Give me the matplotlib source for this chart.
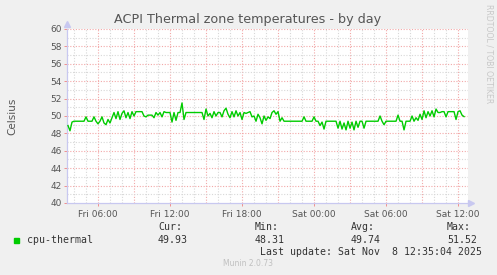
import numpy as np
import matplotlib.pyplot as plt

# cpu-thermal, one sample every 10 minutes from Fri 03:30 to Sat 12:30
temps = [
    48.9, 48.3, 49.3, 49.4, 49.4, 49.4, 49.4, 49.4, 49.4, 49.9,
    49.4, 49.4, 49.4, 49.9, 49.4, 49.1, 49.4, 49.9, 49.2, 49.0,
    49.6, 49.2, 49.8, 50.4, 49.7, 50.5, 49.6, 50.3, 50.6, 49.8,
    50.4, 49.7, 50.5, 50.0, 50.5, 50.5, 50.5, 50.5, 50.0, 49.9,
    50.1, 50.1, 50.1, 49.8, 50.4, 50.1, 50.4, 49.9, 50.5, 50.4,
    50.4, 50.4, 49.3, 50.4, 49.5, 50.4, 50.4, 51.5, 49.6, 50.4,
    50.4, 50.4, 50.4, 50.4, 50.4, 50.4, 50.4, 50.4, 49.6, 50.8,
    50.0, 50.3, 49.8, 50.5, 50.0, 50.4, 50.4, 49.9, 50.6, 50.9,
    50.2, 49.8, 50.5, 49.9, 50.6, 50.0, 50.4, 49.6, 50.4, 50.3,
    50.4, 50.5, 49.9, 50.0, 49.4, 50.2, 49.8, 49.1, 50.0, 49.5,
    49.9, 49.7, 50.4, 50.6, 50.2, 50.5, 49.4, 49.8, 49.4, 49.4,
    49.4, 49.4, 49.4, 49.4, 49.4, 49.4, 49.4, 49.4, 49.9, 49.4,
    49.4, 49.4, 49.4, 49.9, 49.4, 49.4, 48.9, 49.3, 48.5, 49.4,
    49.4, 49.4, 49.4, 49.4, 49.4, 48.6, 49.4, 48.5, 49.2, 48.4,
    49.4, 48.6, 49.3, 48.4, 49.4, 48.7, 49.4, 49.4, 48.6, 49.4,
    49.4, 49.4, 49.4, 49.4, 49.4, 49.4, 50.0, 49.4, 49.0, 49.4,
    49.4, 49.4, 49.4, 49.4, 49.4, 50.1, 49.4, 49.4, 48.4, 49.4,
    49.4, 49.4, 50.0, 49.4, 49.8, 49.5, 50.2, 49.6, 50.6, 49.8,
    50.5, 50.0, 50.6, 49.9, 50.8, 50.4, 50.4, 50.5, 50.5, 49.9,
    50.5, 50.5, 50.5, 50.5, 49.6, 50.5, 50.6, 50.1, 49.93,
]
start_hour = 3.5      # Fri 03:30
step_hour = 10 / 60.0

tick_hours = [6, 12, 18, 24, 30, 36]
tick_labels = ["Fri 06:00", "Fri 12:00", "Fri 18:00", "Sat 00:00", "Sat 06:00", "Sat 12:00"]
y_ticks = [40, 42, 44, 46, 48, 50, 52, 54, 56, 58, 60]

legend_name = "cpu-thermal"
stat_names = ["Cur:", "Min:", "Avg:", "Max:"]
stat_values = ["49.93", "48.31", "49.74", "51.52"]

bg = "#F0F0F0"
axis_col = "#C8C8F0"
txt_col = "#555555"

hours = start_hour + step_hour * np.arange(len(temps))

fig = plt.figure(figsize=(4.97, 2.75), dpi=100, facecolor=bg)
ax = fig.add_axes([67 / 497, 72 / 275, 401 / 497, 174 / 275])
ax.set_facecolor("white")

x0, x1 = 3.417, 36.83
ax.set_xlim(x0, x1)
ax.set_ylim(40, 60)

# grid: minor gray every hour / degree, major red every 3h / 2 degrees
for h in range(4, 37):
    col = "#F2A8A8" if h % 3 == 0 else "#D8D8D8"
    ax.axvline(h, color=col, ls=(0, (1, 1.5)), lw=0.8, zorder=1)
for v in range(41, 61):
    col = "#F2A8A8" if v % 2 == 0 else "#D8D8D8"
    ax.axhline(v, color=col, ls=(0, (1, 1.5)), lw=0.8, zorder=1)

ax.plot(hours, temps, color="#00CC00", lw=1.0, zorder=3)

for s in ["top", "right"]:
    ax.spines[s].set_visible(False)
for s in ["left", "bottom"]:
    ax.spines[s].set_color(axis_col)
    ax.spines[s].set_linewidth(0.9)

ax.set_xticks(tick_hours)
ax.set_xticklabels(tick_labels)
ax.set_yticks(y_ticks)
ax.tick_params(axis="both", labelsize=6.5, colors=txt_col, length=2, width=0.6, pad=2)
ax.tick_params(axis="x", colors="#F08080", labelcolor=txt_col, pad=3)
ax.tick_params(axis="y", colors="#F08080", labelcolor=txt_col)

# arrows at axis ends
ax.plot([1.008], [0], marker=">", ms=4, color=axis_col, transform=ax.transAxes, clip_on=False)
ax.plot([0], [1.03], marker="^", ms=4, color=axis_col, transform=ax.transAxes, clip_on=False)

fig.text(12 / 497, 1 - 116 / 275, "Celsius", rotation=90, ha="center", va="center",
         fontsize=7.5, color=txt_col)

fig.text(248 / 497, 1 - 19 / 275, "ACPI Thermal zone temperatures - by day", ha="center", va="center",
         fontsize=9.2, color=txt_col)
fig.text(489 / 497, 1 - 4 / 275, "RRDTOOL / TOBI OETIKER", rotation=270, ha="center", va="top",
         fontsize=5.6, color="#C8C8C8")

# legend
mono = "DejaVu Sans Mono"
fs = 7.1
fig.patches.append(plt.Rectangle((14 / 497, 1 - 243 / 275), 5 / 497, 5 / 275, transform=fig.transFigure,
                                 color="#00CC00", figure=fig))
fig.text(27 / 497, 1 - 240 / 275, legend_name, family=mono, fontsize=fs, color="#333333", va="center")
stat_x = [158, 255, 351, 447]
for sx, name, val in zip(stat_x, stat_names, stat_values):
    fig.text(sx / 497, 1 - 227 / 275, name, family=mono, fontsize=fs, color="#333333", va="center")
    fig.text(sx / 497, 1 - 240 / 275, val, family=mono, fontsize=fs, color="#333333", va="center")
fig.text(482 / 497, 1 - 252 / 275, "Last update: Sat Nov  8 12:35:04 2025", family=mono, fontsize=fs,
         color="#333333", va="center", ha="right")
fig.text(248 / 497, 1 - 264 / 275, "Munin 2.0.73", fontsize=5.5, color="#C0C0C0", va="center", ha="center")

fig.savefig("out.png", dpi=100, facecolor=bg)
